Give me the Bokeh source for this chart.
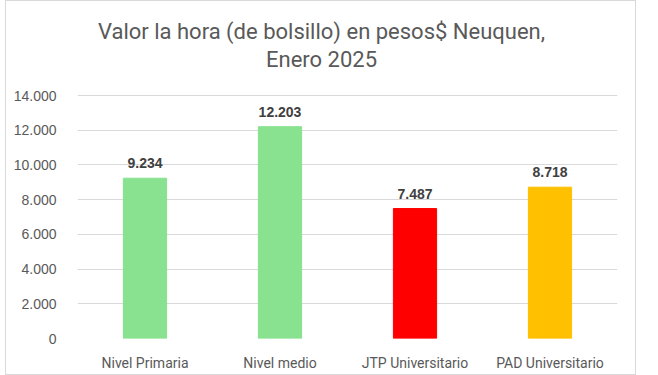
from bokeh.plotting import figure
from bokeh.models import ColumnDataSource, FactorRange, CustomJSTickFormatter, FixedTicker, Label
from bokeh.core.properties import value
from bokeh.embed import file_html
from bokeh.resources import INLINE

categories = ["Nivel Primaria", "Nivel medio", "JTP Universitario", "PAD Universitario"]
values = [9234, 12203, 7487, 8718]
colors = ["#88E28F", "#88E28F", "#FF0000", "#FFC000"]
y_ticks = [0, 2000, 4000, 6000, 8000, 10000, 12000, 14000]
title_lines = ["Valor la hora (de bolsillo) en pesos$ Neuquen,", "Enero 2025"]

labels = [f"{v:,}".replace(",", ".") for v in values]
src = ColumnDataSource(dict(cat=categories, val=values, col=colors, lab=labels))

FONT = "Roboto"
# frame spans full height above the axis; 14.000 gridline sits 243px above 0 in a 337px frame
Y_TOP = 14000 * 337 / 243

p = figure(x_range=FactorRange(*categories), y_range=(0, Y_TOP),
           width=631, height=375, output_backend="svg", toolbar_location=None,
           min_border_left=71, min_border_right=20, min_border_top=0, min_border_bottom=38)
p.title = None

# title lines (centred on the whole chart box, which is left of the frame centre)
title_y = [Y_TOP * (337 - 30) / 337, Y_TOP * (337 - 58) / 337]
for txt, ty in zip(title_lines, title_y):
    p.add_layout(Label(x=len(categories) / 2, y=ty, text=txt, x_offset=-26,
                       text_align="center", text_baseline="middle",
                       text_font_size="22px", text_color="#595959", text_font=FONT))

p.vbar(x="cat", top="val", width=0.32, color="col", source=src)
p.text(x="cat", y="val", text="lab", source=src, text_align="center", text_baseline="bottom",
       y_offset=-10, text_font_size="14px", text_font_style="bold", text_color="#404040",
       text_font=value("Liberation Sans"))

p.outline_line_color = None
p.background_fill_color = "white"
p.border_fill_color = "white"
p.xgrid.grid_line_color = None
p.ygrid.grid_line_color = "#D9D9D9"
p.ygrid.grid_line_width = 1
p.yaxis.ticker = FixedTicker(ticks=y_ticks)
p.ygrid.ticker = FixedTicker(ticks=y_ticks)
p.yaxis.formatter = CustomJSTickFormatter(code="return tick.toFixed(0).replace(/\\B(?=(\\d{3})+(?!\\d))/g, '.');")
for ax in (p.xaxis[0], p.yaxis[0]):
    ax.axis_line_color = None
    ax.major_tick_line_color = None
    ax.minor_tick_line_color = None
    ax.major_label_text_color = "#595959"
    ax.major_label_text_font_size = "14px"
    ax.major_label_text_font = "Liberation Sans"
p.yaxis.major_label_standoff = 15
p.xaxis.major_label_standoff = 10
p.xaxis.major_label_text_font = FONT
p.xaxis.major_label_text_font_size = "14px"
p.styles = {"border": "1px solid #D9D9D9", "margin-left": "5px"}

open("out.html", "w").write(file_html(p, INLINE))
